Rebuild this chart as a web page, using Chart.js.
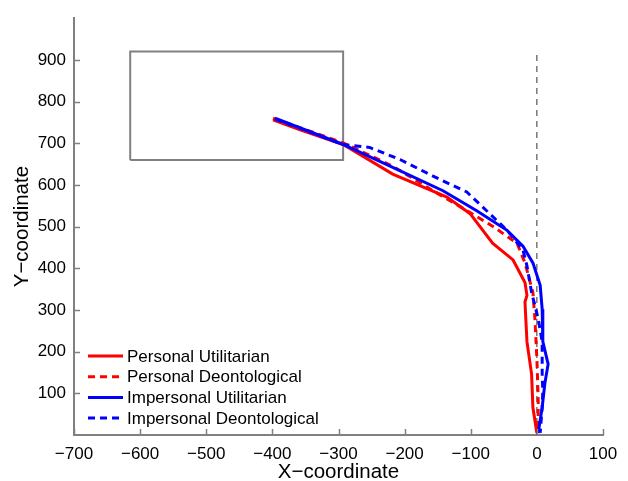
<!DOCTYPE html>
<html>
<head>
<meta charset="utf-8">
<script src="https://cdn.jsdelivr.net/npm/chart.js@4.4.1/dist/chart.umd.min.js"></script>
<style>
	html, body { margin: 0; padding: 0; background: #fff; }
	#wrap { width: 628px; height: 481px; }
</style>
</head>
<body>
<div id="wrap"><canvas id="myChart" width="628" height="481"></canvas></div>
<script>
// trajectories: [x, y]
const personalUtil	= [ [-399,756], [-358,732], [-293,697], [-218,626], [-136,571], [-101,531], [-67,460], [-36,420], [-18,366], [-15,335], [-18,319], [-15,224], [-8,146], [-6,66], [0,5] ];
const personalDeon	= [ [-399,760], [-293,701], [-218,645], [-157,586], [-116,548], [-67,501], [-30,460], [-18,413], [-6,342], [-3,279], [0,184], [2,83], [2,5] ];
const impersUtil	= [ [-396,760], [-293,697], [-218,642], [-142,586], [-91,538], [-45,491], [-21,453], [-6,413], [5,359], [8,302], [9,224], [17,170], [12,123], [8,66], [2,5] ];
const impersDeon	= [ [-396,758], [-293,697], [-253,690], [-207,661], [-157,621], [-106,583], [-76,538], [-45,491], [-21,444], [-15,406], [-8,342], [2,279], [8,224], [8,146], [9,106], [8,66], [5,5] ];

const seriesNames	= [ "Personal Utilitarian", "Personal Deontological", "Impersonal Utilitarian", "Impersonal Deontological" ];
const boxX		= [ -615, -293 ];
const boxY		= [ 660, 920 ];
const midLineY	= [ 0, 914 ];
const xTicks	= [ -700, -600, -500, -400, -300, -200, -100, 0, 100 ];
const yTicks	= [ 100, 200, 300, 400, 500, 600, 700, 800, 900 ];

const FONT	= "'Liberation Sans', Arial, sans-serif";
const AXIS_GRAY	= "#808080";

function pts( arr ) {
	return arr.map( p => ( { x: p[ 0 ], y: p[ 1 ] } ) );
}

function minus( v ) {
	return String( v ).replace( "-", "\u2212" );
}

const styles = [
	{ color: "#ff0000", dash: [] },
	{ color: "#ff0000", dash: [ 7, 5 ] },
	{ color: "#0000ff", dash: [] },
	{ color: "#0000ff", dash: [ 7, 5 ] }
];

const trajData	= [ personalUtil, personalDeon, impersUtil, impersDeon ];
let datasets	= [];

trajData.forEach( ( d, i ) => {
	datasets.push( {
		label: seriesNames[ i ],
		data: pts( d ),
		showLine: true,
		borderColor: styles[ i ].color,
		borderDash: styles[ i ].dash,
		borderWidth: 3,
		pointRadius: 0,
		order: 4 - i
	} );
} );

datasets.push( {
	label: "box",
	data: [ { x: boxX[0], y: boxY[0] }, { x: boxX[0], y: boxY[1] }, { x: boxX[1], y: boxY[1] }, { x: boxX[1], y: boxY[0] }, { x: boxX[0], y: boxY[0] } ],
	showLine: true,
	borderColor: AXIS_GRAY,
	borderWidth: 2,
	pointRadius: 0,
	order: 10
} );

datasets.push( {
	label: "mid",
	data: [ { x: 0, y: midLineY[0] }, { x: 0, y: midLineY[1] } ],
	showLine: true,
	borderColor: "#333",
	borderDash: [ 6, 5 ],
	borderWidth: 1,
	pointRadius: 0,
	order: 11
} );

// ticks pointing inward and the legend, matlab style
const extras = {
	id: "extras",
	afterDraw( chart ) {
		const ctx	= chart.ctx;
		const xs	= chart.scales.x;
		const ys	= chart.scales.y;
		const a		= chart.chartArea;

		ctx.save();
		ctx.strokeStyle	= AXIS_GRAY;
		ctx.lineWidth	= 1.5;
		ctx.beginPath();
		for ( const t of xTicks ) {
			const px = Math.round( xs.getPixelForValue( t ) ) + 0.5;
			ctx.moveTo( px, a.bottom );
			ctx.lineTo( px, a.bottom - 6 );
		}
		for ( const t of yTicks ) {
			const py = Math.round( ys.getPixelForValue( t ) ) + 0.5;
			ctx.moveTo( a.left, py );
			ctx.lineTo( a.left + 6, py );
		}
		ctx.stroke();

		ctx.font		= "17px " + FONT;
		ctx.fillStyle	= "#000";
		ctx.textBaseline	= "middle";
		ctx.lineWidth	= 3;
		seriesNames.forEach( ( name, i ) => {
			const y = 356 + i * 20.7;
			ctx.strokeStyle	= styles[ i ].color;
			ctx.setLineDash( styles[ i ].dash );
			ctx.beginPath();
			ctx.moveTo( 88, y );
			ctx.lineTo( 123, y );
			ctx.stroke();
			ctx.fillText( name, 127, y + 1 );
		} );
		ctx.restore();
	}
};

new Chart( document.getElementById( "myChart" ), {
	type: "scatter",
	data: { datasets: datasets },
	options: {
		responsive: false,
		animation: false,
		layout: { padding: { left: 0, right: 25, top: 12, bottom: 0 } },
		plugins: { legend: { display: false }, tooltip: { enabled: false } },
		scales: {
			x: {
				type: "linear",
				min: -700,
				max: 100,
				afterBuildTicks: s => { s.ticks = xTicks.map( v => ( { value: v } ) ); },
				afterFit: s => { s.height = 46; },
				ticks: {
					color: "#000",
					font: { family: FONT, size: 17 },
					padding: 9,
					maxRotation: 0,
					callback: v => minus( v )
				},
				grid: { drawOnChartArea: false, drawTicks: false },
				border: { color: AXIS_GRAY, width: 2 },
				title: {
					display: true,
					text: "X\u2212coordinate",
					color: "#000",
					font: { family: FONT, size: 20.5 },
					padding: { top: 0, bottom: -4 }
				}
			},
			y: {
				type: "linear",
				min: 0,
				max: 1000,
				afterBuildTicks: s => { s.ticks = yTicks.map( v => ( { value: v } ) ); },
				afterFit: s => { s.width = 74; },
				ticks: {
					color: "#000",
					font: { family: FONT, size: 17 },
					padding: 8,
					callback: v => minus( v )
				},
				grid: { drawOnChartArea: false, drawTicks: false },
				border: { color: AXIS_GRAY, width: 2 },
				title: {
					display: true,
					text: "Y\u2212coordinate",
					color: "#000",
					font: { family: FONT, size: 20.5 },
					padding: { top: 10, bottom: 0 }
				}
			}
		}
	},
	plugins: [ extras ]
} );
</script>
</body>
</html>
